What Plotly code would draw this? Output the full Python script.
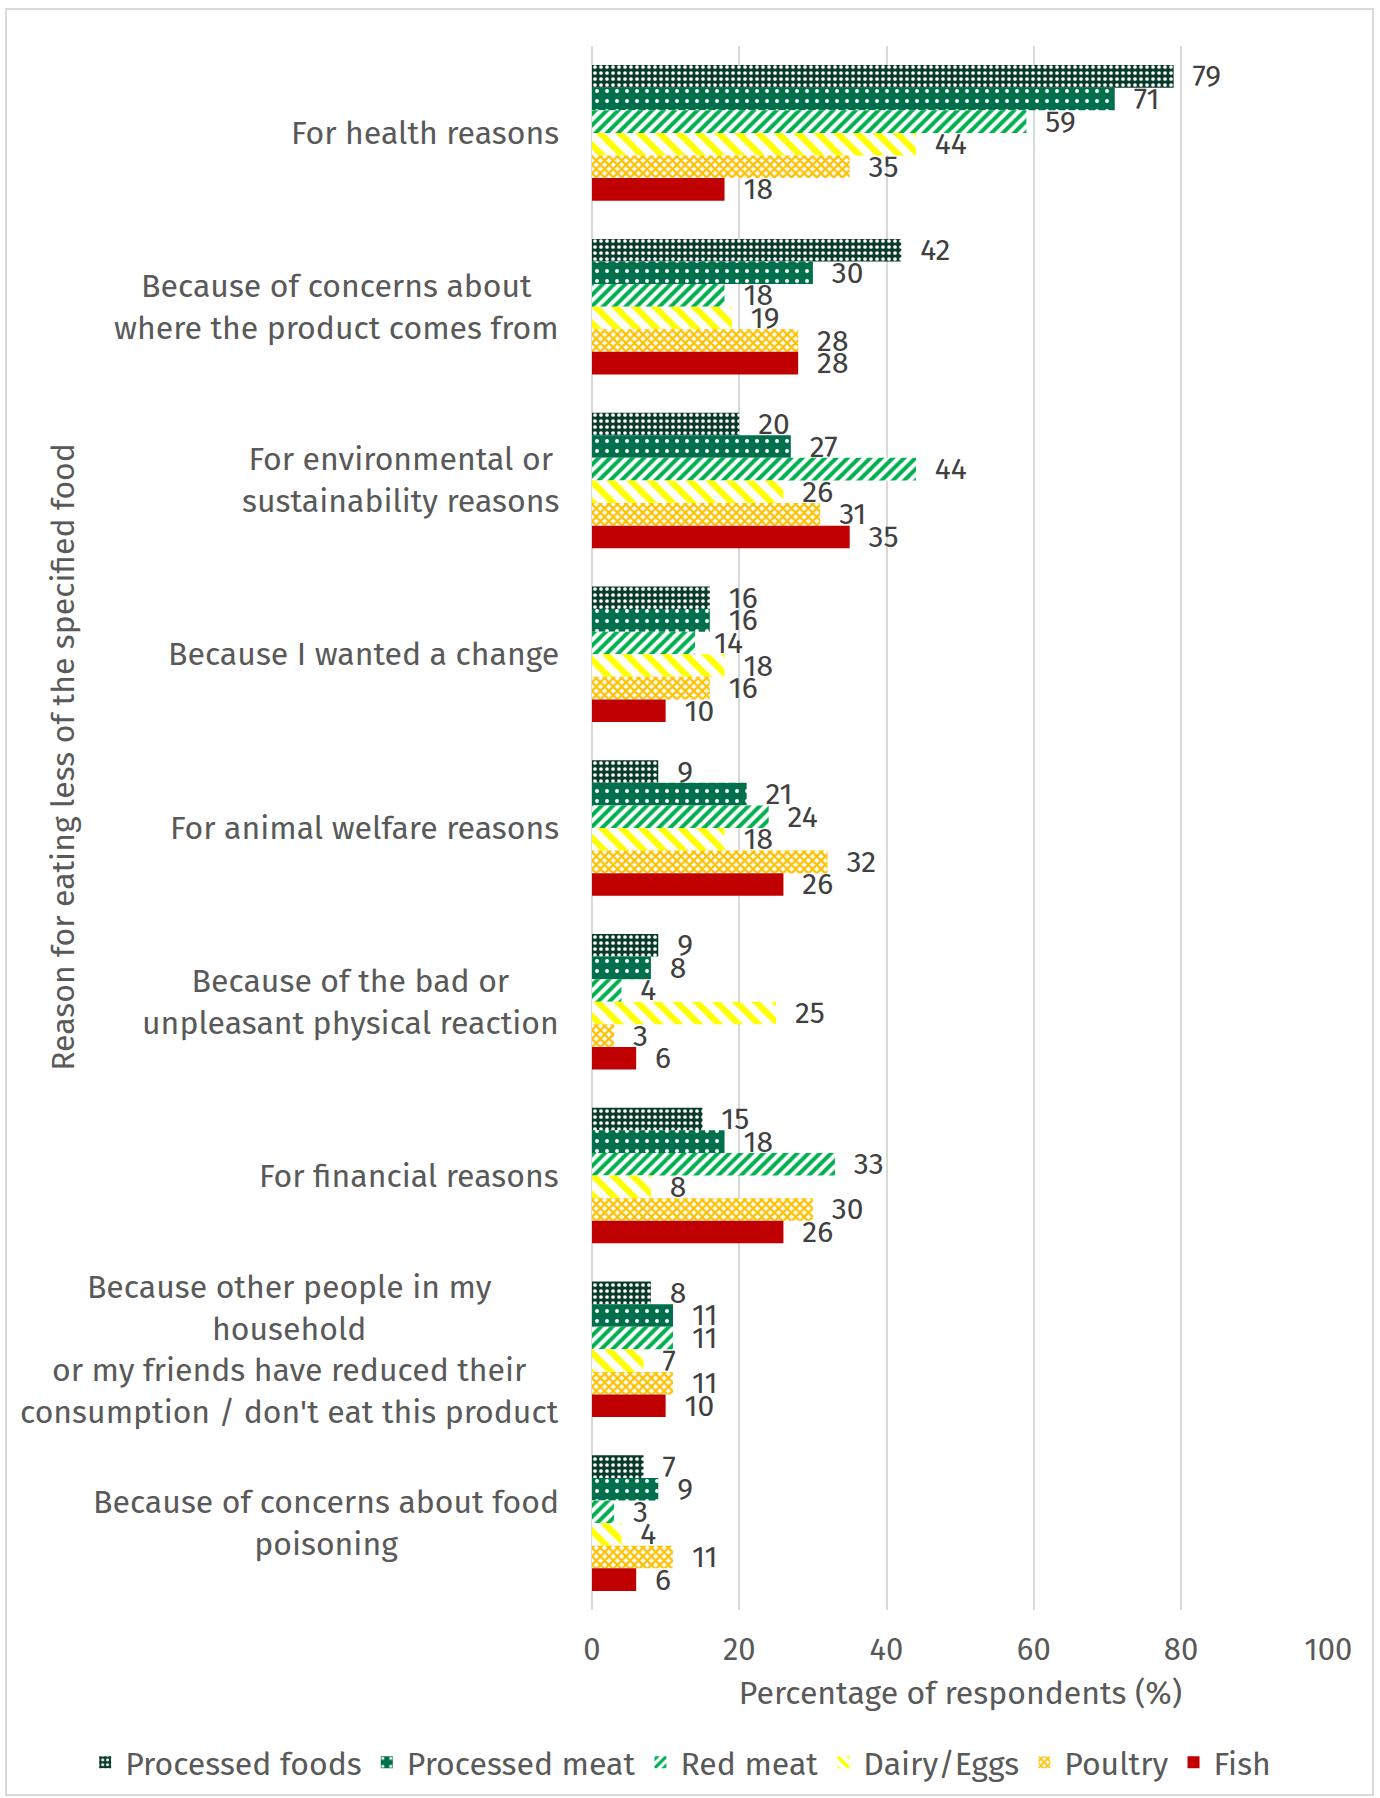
import plotly.graph_objects as go

# Reasons for eating less of each food type (percentage of respondents)
reasons = [
    "For health reasons",
    "Because of concerns about<br>where the product comes from",
    "For environmental or<br>sustainability reasons",
    "Because I wanted a change",
    "For animal welfare reasons",
    "Because of the bad or<br>unpleasant physical reaction",
    "For financial reasons",
    "Because other people in my<br>household<br>or my friends have reduced their<br>consumption / don't eat this product",
    "Because of concerns about food<br>poisoning",
]

processed_foods = [79, 42, 20, 16, 9, 9, 15, 8, 7]
processed_meat = [71, 30, 27, 16, 21, 8, 18, 11, 9]
red_meat = [59, 18, 44, 14, 24, 4, 33, 11, 3]
dairy_eggs = [44, 19, 26, 18, 18, 25, 8, 7, 4]
poultry = [35, 28, 31, 16, 32, 3, 30, 11, 11]
fish = [18, 28, 35, 10, 26, 6, 26, 10, 6]

series_names = ["Processed foods", "Processed meat", "Red meat", "Dairy/Eggs", "Poultry", "Fish"]
series_values = [processed_foods, processed_meat, red_meat, dairy_eggs, poultry, fish]

x_ticks = [0, 20, 40, 60, 80, 100]

FONT = "Fira Sans, Roboto, sans-serif"
TEXT_GREY = "#595959"
LABEL_GREY = "#404040"

# Fill style per series: pattern shape, foreground, background, tile size, solidity
styles = [
    dict(shape=".", fgcolor="#ffffff", bgcolor="#0b3b2b", size=6, solidity=0.3),
    dict(shape=".", fgcolor="#ffffff", bgcolor="#006f4b", size=10, solidity=0.12),
    dict(shape="/", fgcolor="#00b050", bgcolor="#ffffff", size=8, solidity=0.5),
    dict(shape="\\", fgcolor="#ffff00", bgcolor="#ffffff", size=14, solidity=0.45),
    dict(shape="x", fgcolor="#ffc000", bgcolor="#ffffff", size=6, solidity=0.6),
    dict(shape="", fgcolor="#c00000", bgcolor="#c00000", size=8, solidity=1),
]
solid_colors = ["#0b3b2b", "#006f4b", "#00b050", "#ffff00", "#ffc000", "#c00000"]

fig = go.Figure()
for name, vals, st, col in zip(series_names, series_values, styles, solid_colors):
    fig.add_trace(go.Bar(
        y=reasons,
        x=vals,
        name=name,
        orientation="h",
        marker=dict(
            color=col,
            line=dict(width=0),
            pattern=dict(fillmode="replace", **st),
        ),
        text=vals,
        texttemplate="\u00a0\u00a0%{x}",
        textposition="outside",
        textfont=dict(family=FONT, size=30, color=LABEL_GREY),
        constraintext="none",
        cliponaxis=False,
    ))

# Category labels, centred line by line and right-aligned to the axis
for r in reasons:
    fig.add_annotation(
        x=-0.042, xref="paper", y=r, yref="y",
        text=r, showarrow=False, xanchor="right", yanchor="middle",
        align="center", font=dict(family=FONT, size=32, color=TEXT_GREY),
    )

# Vertical axis title
fig.add_annotation(
    x=-0.718, xref="paper", y=0.5454, yref="paper",
    text="Reason for eating less of the specified food", textangle=-90,
    showarrow=False, xanchor="center", yanchor="middle",
    font=dict(family=FONT, size=32, color=TEXT_GREY),
)

# Light outer frame
fig.add_shape(
    type="rect", xref="paper", yref="paper",
    x0=-0.795, x1=1.0597, y0=-0.1183, y1=1.0237,
    line=dict(color="#d9d9d9", width=2), fillcolor="rgba(0,0,0,0)",
    layer="below",
)

fig.update_layout(
    width=1380, height=1798,
    margin=dict(l=592, r=51, t=46, b=188, autoexpand=False),
    paper_bgcolor="white", plot_bgcolor="white",
    barmode="group", bargap=0.22, bargroupgap=0,
    font=dict(family=FONT, color=TEXT_GREY),
    showlegend=True,
    legend=dict(
        orientation="h", xref="paper", yref="paper",
        x=-0.6877, xanchor="left", y=-0.0975, yanchor="middle",
        font=dict(family=FONT, size=32, color=TEXT_GREY),
        itemwidth=30, traceorder="normal",
    ),
    xaxis=dict(
        range=[0, 100.1], tickvals=x_ticks, ticktext=[str(t) for t in x_ticks],
        showgrid=True, gridcolor="#d9d9d9", gridwidth=1.5,
        zeroline=True, zerolinecolor="#d9d9d9", zerolinewidth=1.5,
        showline=False, ticks="", ticklabelstandoff=18,
        tickfont=dict(family=FONT, size=31, color=TEXT_GREY),
        title=dict(text="Percentage of respondents (%)", standoff=14,
                   font=dict(family=FONT, size=32, color=TEXT_GREY)),
    ),
    yaxis=dict(
        autorange="reversed", showticklabels=False, showgrid=False,
        showline=False, ticks="", zeroline=False,
    ),
)

fig.write_html("out.html")
